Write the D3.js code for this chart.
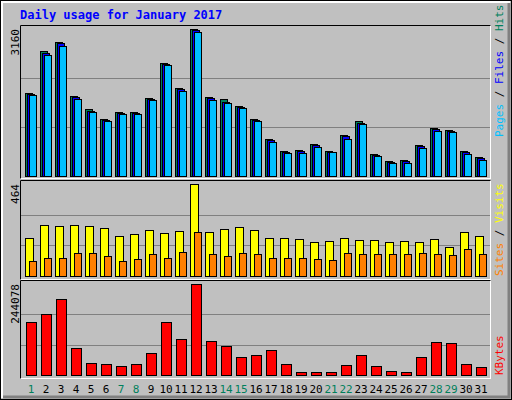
<!DOCTYPE html>
<html>
<head>
<meta charset="utf-8">
<script src="https://cdn.jsdelivr.net/npm/d3@7"></script>
<style>body{margin:0;background:#fff}</style>
</head>
<body>
<svg id="chart" width="512" height="400"></svg>
<script>
var days = d3.range(1, 32);
var weekend = [1, 7, 8, 14, 15, 21, 22, 28, 29];
var hits = [1784,2688,2881,1720,1440,1225,1376,1376,1677,2430,1892,3160,1698,1655,1505,1225,795,537,559,688,537,881,1182,473,322,344,666,1032,989,537,408];
var files = [1760,2650,2850,1690,1400,1200,1350,1350,1650,2400,1860,3140,1670,1600,1480,1200,770,520,540,670,520,860,1150,455,310,330,640,1000,960,515,390];
var pages = [1750,2600,2800,1660,1380,1180,1340,1340,1630,2380,1820,3100,1640,1560,1460,1190,740,500,500,620,510,800,1110,420,280,280,600,960,940,470,350];
var visits = [193,258,253,258,253,243,203,213,233,218,228,464,223,238,248,233,193,193,188,173,178,193,183,183,173,178,173,188,147,223,203];
var sites = [77,92,92,117,117,102,77,87,112,92,122,223,112,102,117,112,92,92,92,87,82,117,112,112,112,112,117,112,107,137,112];
var kbytes = [142531,163907,204884,73046,32960,30287,24942,30287,59683,142531,97097,244078,91752,78390,48994,54339,67701,30287,8908,8908,8908,27615,54339,24942,11580,8908,48994,89080,86408,30287,22270];

var svg = d3.select("#chart");
var font = "'DejaVu Sans Mono', monospace";

// frame
svg.append("rect").attr("x", 0.5).attr("y", 0.5).attr("width", 511).attr("height", 399).attr("fill", "#c0c0c0").attr("stroke", "#000");
svg.append("path").attr("d", "M2,398V2H510").attr("fill", "none").attr("stroke", "#fff").attr("stroke-width", 2);
svg.append("path").attr("d", "M509,3V397H3").attr("fill", "none").attr("stroke", "#808080").attr("stroke-width", 3);

svg.append("text").attr("x", 20).attr("y", 19).attr("fill", "#0000ff").attr("font-family", font)
  .attr("font-weight", "bold").attr("font-size", 12).text("Daily usage for January 2017");

var x = d3.scaleLinear().domain([1, 32]).range([25, 490]);

function panel(y0, y1, yScale, max) {
  svg.append("rect").attr("x", 20.5).attr("y", y0 + 0.5).attr("width", 470).attr("height", y1 - y0)
    .attr("fill", "#c0c0c0").attr("stroke", "#fff");
  svg.append("path").attr("d", "M20.5," + (y1 + 0.5) + "V" + (y0 + 0.5) + "H490.5")
    .attr("fill", "none").attr("stroke", "#000");
  [1 / 3, 2 / 3].forEach(function (f) {
    var gy = Math.round(yScale(max * f)) + 0.5;
    svg.append("line").attr("x1", 21).attr("x2", 490).attr("y1", gy).attr("y2", gy).attr("stroke", "#808080");
  });
  svg.append("text").attr("transform", "translate(19," + (yScale(max) ) + ") rotate(-90)")
    .attr("text-anchor", "end").attr("font-family", font).attr("font-size", 11).text(max);
}

function bars(data, yScale, dx, w, color) {
  svg.append("g").selectAll("rect").data(data).join("rect")
    .attr("x", function (d, i) { return x(days[i]) + dx + 0.5; })
    .attr("y", function (d) { return Math.round(yScale(d)) + 0.5; })
    .attr("width", w)
    .attr("height", function (d) { return Math.round(yScale(0) - yScale(d)); })
    .attr("fill", color).attr("stroke", "#000");
}

function sideLabel(yBottom, parts) {
  var t = svg.append("text").attr("transform", "translate(503," + yBottom + ") rotate(-90)")
    .attr("font-family", font).attr("font-size", 11);
  parts.forEach(function (p) { t.append("tspan").attr("fill", p[1]).text(p[0]); });
}

var y1 = d3.scaleLinear().domain([0, 3160]).range([176, 29]);
panel(25, 178, y1, 3160);
bars(hits, y1, 0, 7, "#00805c");
bars(files, y1, 2, 7, "#0000ff");
bars(pages, y1, 4, 7, "#00c0ff");
sideLabel(137, [["Pages", "#00c0ff"], [" / ", "#000"], ["Files", "#0000ff"], [" / ", "#000"], ["Hits", "#00805c"]]);

var y2 = d3.scaleLinear().domain([0, 464]).range([276, 184]);
panel(180, 279, y2, 464);
bars(visits, y2, 0, 8, "#ffff00");
bars(sites, y2, 4, 7, "#ff8000");
sideLabel(276, [["Sites", "#ff8000"], [" / ", "#000"], ["Visits", "#ffff00"]]);

var y3 = d3.scaleLinear().domain([0, 244078]).range([375, 284]);
panel(280, 378, y3, 244078);
bars(kbytes, y3, 1, 10, "#ff0000");
sideLabel(375, [["KBytes", "#ff0000"]]);

svg.append("g").selectAll("text").data(days).join("text")
  .attr("x", function (d) { return x(d) + 6; }).attr("y", 393)
  .attr("text-anchor", "middle").attr("font-family", font).attr("font-size", 11)
  .attr("fill", function (d) { return weekend.indexOf(d) >= 0 ? "#00805c" : "#000"; })
  .text(function (d) { return d; });
</script>
</body>
</html>
